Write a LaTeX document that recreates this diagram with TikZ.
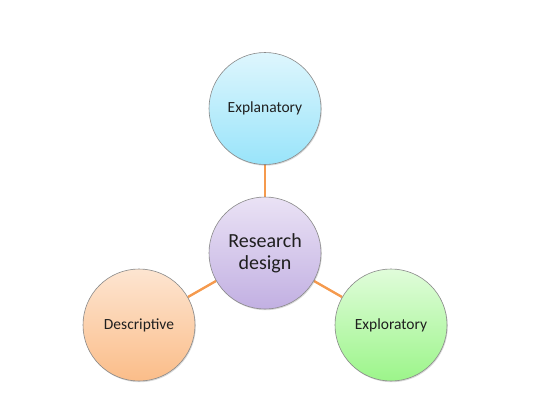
\documentclass[tikz,border=0pt]{standalone}
\usepackage{fontspec}
\setmainfont{Carlito}
\usetikzlibrary{shadows,backgrounds}
\definecolor{linkc}{HTML}{F59A4E}
\definecolor{rimc}{HTML}{8A8A8A}
\tikzset{
  bubble/.style={circle, draw=rimc, line width=0.6pt, minimum size=112pt, inner sep=0pt,
    align=center, text=black!88, font=\fontsize{15.5}{18}\selectfont,
    drop shadow={shadow xshift=0.8pt, shadow yshift=-1.2pt, opacity=0.25, fill=black!60}},
  link/.style={draw=linkc, line width=2.4pt},
}
\begin{document}
\begin{tikzpicture}[x=1pt,y=-1pt]
\useasboundingbox (0,0) rectangle (556,413);
\node[bubble, top color={rgb,255:red,222;green,246;blue,253}, bottom color={rgb,255:red,153;green,228;blue,250}] (expl) at (265,108.5) {Explanatory};
\node[bubble, font=\fontsize{20}{22}\selectfont, top color={rgb,255:red,234;green,226;blue,245}, bottom color={rgb,255:red,194;green,176;blue,226}] (rd) at (265,253) {Research\\design};
\node[bubble, top color={rgb,255:red,253;green,229;blue,209}, bottom color={rgb,255:red,251;green,189;blue,137}] (desc) at (139,325) {Descriptive};
\node[bubble, top color={rgb,255:red,224;green,252;blue,218}, bottom color={rgb,255:red,156;green,245;blue,138}] (expo) at (391,325) {Exploratory};
\begin{scope}[on background layer]
\draw[link] (rd) -- (expl);
\draw[link] (rd) -- (desc);
\draw[link] (rd) -- (expo);
\end{scope}
\end{tikzpicture}
\end{document}
